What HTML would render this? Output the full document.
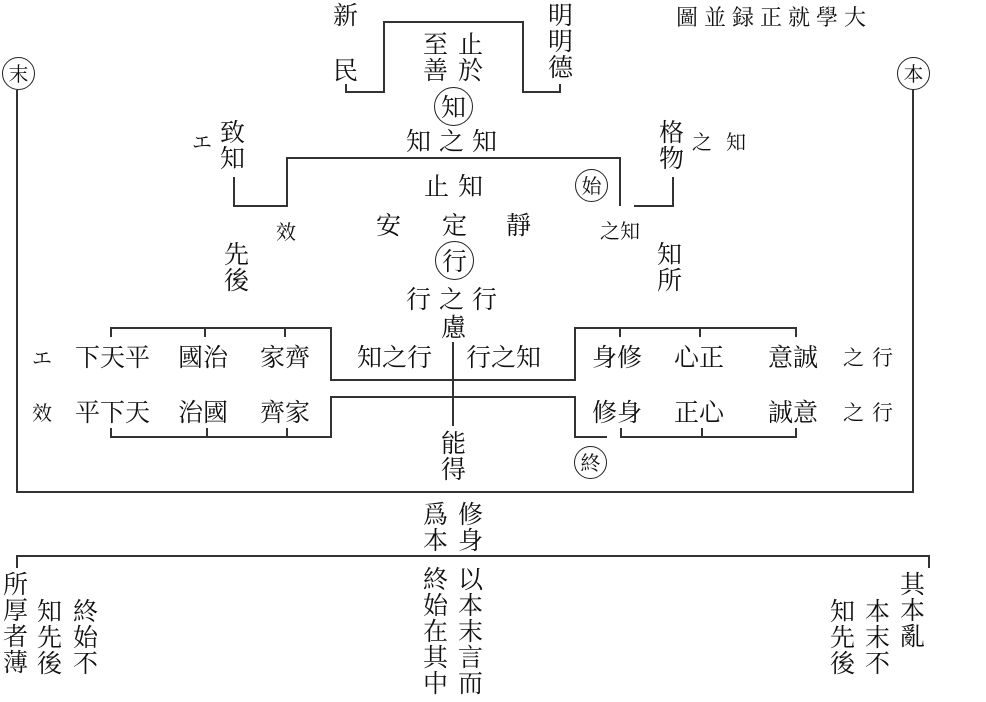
<!DOCTYPE html>
<html><head><meta charset="utf-8"><style>
html,body{margin:0;padding:0;background:#fff;}
body{width:986px;height:702px;position:relative;overflow:hidden;font-family:"Noto Serif CJK SC","Liberation Serif","Noto Sans CJK TC",serif;color:#111;}
.t{position:absolute;font-size:25px;line-height:26px;white-space:nowrap;}
.s{position:absolute;font-size:20px;line-height:22px;white-space:nowrap;}
.c{position:absolute;border:1.5px solid #222;border-radius:50%;box-sizing:border-box;text-align:center;}
svg{position:absolute;left:0;top:0;}
</style></head><body>
<svg width="986" height="702" stroke="#333" stroke-width="2" fill="none">
<polyline points="17,90 17,492 913,492 913,90"/>
<polyline points="346,84 346,92 384,92 384,22 523,22 523,92 560,92 560,84"/>
<polyline points="234,177 234,206 287,206 287,158 620,158 620,206"/>
<polyline points="634,206 673,206 673,177"/>
<polyline points="111,337 111,328 331,328 331,380 575,380 575,328 796,328 796,337"/>
<line x1="205" y1="328" x2="205" y2="337"/><line x1="285" y1="328" x2="285" y2="337"/>
<line x1="620" y1="328" x2="620" y2="337"/><line x1="700" y1="328" x2="700" y2="337"/>
<polyline points="111,428 111,437 331,437 331,397 575,397 575,437 607,437"/>
<line x1="207" y1="437" x2="207" y2="428"/><line x1="287" y1="437" x2="287" y2="428"/>
<polyline points="621,428 621,437 796,437 796,428"/>
<line x1="702" y1="437" x2="702" y2="428"/>
<line x1="453" y1="342" x2="453" y2="426"/>
<polyline points="17,568 17,556 929,556 929,568"/>
</svg>

<div class="t" style="left:676px;top:4px;font-size:22px;letter-spacing:6px;">圖並録正就學大</div>
<div class="c" style="left:2px;top:57px;width:33px;height:33px;font-size:20px;line-height:30px;">末</div>
<div class="c" style="left:897px;top:57px;width:33px;height:33px;font-size:20px;line-height:30px;">本</div>

<div class="t" style="left:333px;top:1px;">新</div>
<div class="t" style="left:333px;top:56px;">民</div>
<div class="t" style="left:548px;top:1px;">明<br>明<br>德</div>
<div class="t" style="left:423px;top:30px;">至<br>善</div>
<div class="t" style="left:458px;top:30px;">止<br>於</div>
<div class="c" style="left:434px;top:87px;width:39px;height:39px;font-size:25px;line-height:36px;">知</div>
<div class="t" style="left:406px;top:127px;letter-spacing:8px;">知之知</div>

<div class="s" style="left:192px;top:130px;">エ</div>
<div class="t" style="left:220px;top:118px;">致<br>知</div>
<div class="t" style="left:659px;top:118px;">格<br>物</div>
<div class="s" style="left:692px;top:130px;letter-spacing:14px;">之知</div>
<div class="t" style="left:424px;top:172px;letter-spacing:9px;">止知</div>
<div class="c" style="left:575px;top:169px;width:33px;height:33px;font-size:20px;line-height:30px;">始</div>
<div class="s" style="left:276px;top:220px;">效</div>
<div class="t" style="left:376px;top:211px;">安</div>
<div class="t" style="left:442px;top:211px;">定</div>
<div class="t" style="left:506px;top:211px;">靜</div>
<div class="s" style="left:600px;top:219px;">之知</div>
<div class="t" style="left:224px;top:240px;">先<br>後</div>
<div class="t" style="left:657px;top:240px;">知<br>所</div>
<div class="c" style="left:435px;top:241px;width:39px;height:39px;font-size:25px;line-height:36px;">行</div>
<div class="t" style="left:406px;top:285px;letter-spacing:8px;">行之行</div>
<div class="t" style="left:441px;top:313px;">慮</div>

<div class="s" style="left:32px;top:346px;">エ</div>
<div class="t" style="left:75px;top:343px;">下天平</div>
<div class="t" style="left:178px;top:343px;">國治</div>
<div class="t" style="left:260px;top:343px;">家齊</div>
<div class="t" style="left:357px;top:343px;">知之行</div>
<div class="t" style="left:466px;top:343px;">行之知</div>
<div class="t" style="left:592px;top:343px;">身修</div>
<div class="t" style="left:674px;top:343px;">心正</div>
<div class="t" style="left:768px;top:343px;">意誠</div>
<div class="s" style="left:843px;top:346px;font-size:21px;letter-spacing:8px;">之行</div>

<div class="s" style="left:32px;top:401px;">效</div>
<div class="t" style="left:75px;top:398px;">平下天</div>
<div class="t" style="left:178px;top:398px;">治國</div>
<div class="t" style="left:260px;top:398px;">齊家</div>
<div class="t" style="left:592px;top:398px;">修身</div>
<div class="t" style="left:674px;top:398px;">正心</div>
<div class="t" style="left:768px;top:398px;">誠意</div>
<div class="s" style="left:843px;top:401px;font-size:21px;letter-spacing:8px;">之行</div>

<div class="t" style="left:441px;top:429px;">能<br>得</div>
<div class="c" style="left:574px;top:446px;width:33px;height:33px;font-size:20px;line-height:30px;">終</div>

<div class="t" style="left:423px;top:500px;">爲<br>本</div>
<div class="t" style="left:458px;top:500px;">修<br>身</div>

<div class="t" style="left:3px;top:570px;">所<br>厚<br>者<br>薄</div>
<div class="t" style="left:37px;top:597px;">知<br>先<br>後</div>
<div class="t" style="left:73px;top:597px;">終<br>始<br>不</div>
<div class="t" style="left:423px;top:565px;">終<br>始<br>在<br>其<br>中</div>
<div class="t" style="left:458px;top:565px;">以<br>本<br>末<br>言<br>而</div>
<div class="t" style="left:900px;top:570px;">其<br>本<br>亂</div>
<div class="t" style="left:865px;top:597px;">本<br>末<br>不</div>
<div class="t" style="left:830px;top:597px;">知<br>先<br>後</div>
</body></html>
